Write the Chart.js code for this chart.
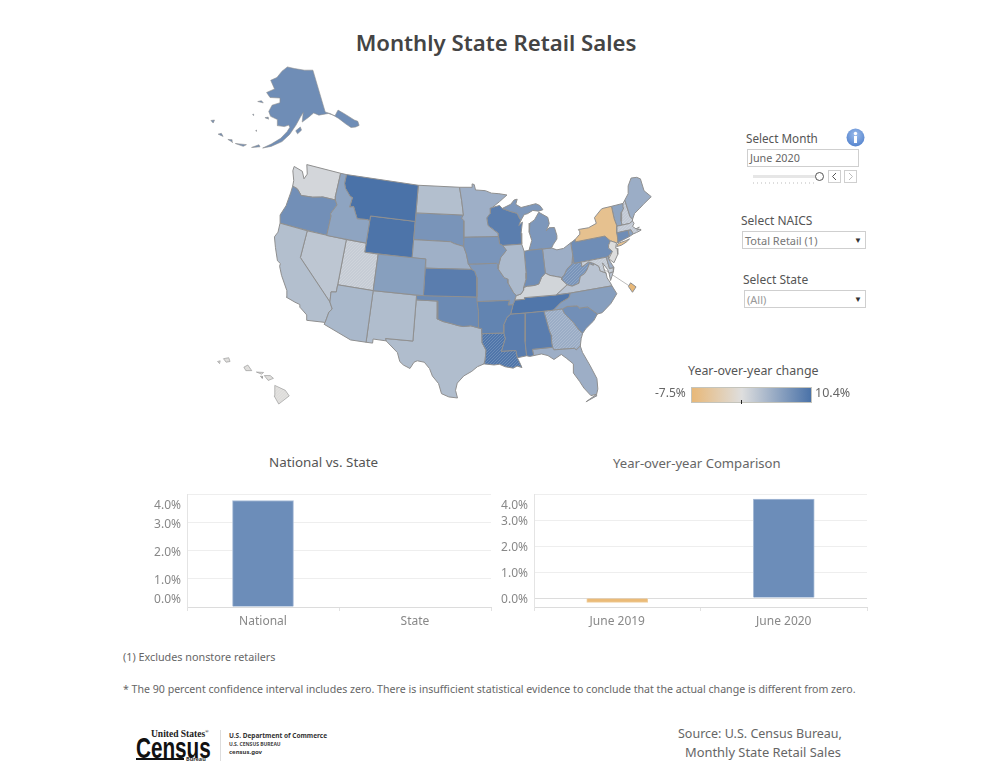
<!DOCTYPE html>
<html>
<head>
<meta charset="utf-8">
<title>Monthly State Retail Sales</title>
<script src="https://cdn.jsdelivr.net/npm/chart.js@4"></script>
<style>
  html, body { margin: 0; padding: 0; background: #fff; }
  body { position: relative; width: 1000px; height: 775px; overflow: hidden; font-family: "Noto Sans", sans-serif; color: #555; }
  .box { position: absolute; }
  .t { position: absolute; white-space: nowrap; line-height: 1; }
  .field { position: absolute; box-sizing: border-box; border: 1px solid #cfcfcf; background: #fff; }
  .caret { position: absolute; font-size: 8px; color: #333; line-height: 1; }
  .btn { position: absolute; box-sizing: border-box; width: 13px; height: 13px; border: 1px solid #cfcfcf; }
  .btn svg { display: block; }
</style>
</head>
<body>
<div class="t" style="left:0;width:992px;text-align:center;top:32px;font-size:22.2px;font-weight:600;color:#444">Monthly State Retail Sales</div>

<div class="box" style="left:200px;top:60px;width:460px;height:355px"><canvas id="chart-map"></canvas></div>

<div class="t" style="left:746px;top:133px;font-size:11.7px">Select Month</div>
<svg class="box" style="left:846px;top:128px" width="19" height="19"><defs><radialGradient id="ig" cx="0.5" cy="0.35" r="0.7"><stop offset="0" stop-color="#9dbdec"/><stop offset="1" stop-color="#4f7fcb"/></radialGradient></defs><circle cx="9.5" cy="9.5" r="9" fill="url(#ig)"/><rect x="8" y="8" width="3" height="7" fill="#fff"/><circle cx="9.5" cy="5.5" r="1.7" fill="#fff"/></svg>
<div class="field" style="left:747px;top:149px;width:112px;height:18px"></div>
<div class="t" style="left:750px;top:153px;font-size:10.8px;color:#666">June 2020</div>
<div class="box" style="left:753px;top:175px;width:63px;height:3px;background:#e6e6e6"></div>
<div class="box" style="left:753px;top:182px;width:64px;height:2px;background:repeating-linear-gradient(90deg,#ddd 0 1px,#fff 1px 4px)"></div>
<div class="box" style="left:815px;top:172px;width:9px;height:9px;box-sizing:border-box;border:1px solid #555;border-radius:50%;background:#fff"></div>
<div class="btn" style="left:828px;top:170px"><svg width="11" height="11"><path d="M7 2 L3.5 5.5 L7 9" fill="none" stroke="#555"/></svg></div>
<div class="btn" style="left:844px;top:170px"><svg width="11" height="11"><path d="M4 2 L7.5 5.5 L4 9" fill="none" stroke="#bbb"/></svg></div>

<div class="t" style="left:741px;top:215px;font-size:12px">Select NAICS</div>
<div class="field" style="left:742px;top:231px;width:124px;height:18px"></div>
<div class="t" style="left:745px;top:235px;font-size:11px;color:#777">Total Retail (1)</div>
<div class="caret" style="left:854px;top:236px">▼</div>

<div class="t" style="left:743px;top:274px;font-size:12px">Select State</div>
<div class="field" style="left:744px;top:290px;width:122px;height:18px"></div>
<div class="t" style="left:747px;top:294px;font-size:11px;color:#999">(All)</div>
<div class="caret" style="left:854px;top:295px">▼</div>

<div class="t" style="left:688px;top:365px;font-size:12.4px">Year-over-year change</div>
<div class="t" style="left:655px;top:387px;font-size:12px;color:#666">-7.5%</div>
<div id="legend-ramp" class="box" style="left:691px;top:387px;width:121px;height:16px;box-sizing:border-box;border:1px solid #c4c4bc"></div>
<div class="box" style="left:741px;top:400px;width:1px;height:4px;background:#222"></div>
<div class="t" style="left:815px;top:387px;font-size:12.5px;color:#666">10.4%</div>

<div class="t" style="left:269px;top:456px;font-size:13.4px">National vs. State</div>
<div class="t" style="left:613px;top:457px;font-size:13.1px;color:#666">Year-over-year Comparison</div>
<div class="box" style="left:130px;top:485px;width:370px;height:150px"><canvas id="chart-national"></canvas></div>
<div class="box" style="left:490px;top:485px;width:390px;height:150px"><canvas id="chart-yoy"></canvas></div>

<div class="t" style="left:123px;top:652px;font-size:10.8px;color:#666">(1) Excludes nonstore retailers</div>
<div class="t" style="left:123px;top:684px;font-size:10.6px;color:#666">* The 90 percent confidence interval includes zero. There is insufficient statistical evidence to conclude that the actual change is different from zero.</div>

<div class="t" style="left:151px;top:729px;font-family:'Liberation Serif',serif;font-weight:700;font-size:9.5px;color:#222">United States<sup style="font-size:5px">®</sup></div>
<div class="t" style="left:136px;top:733px;font-family:'Liberation Sans',sans-serif;font-weight:700;font-size:30px;color:#111;transform:scaleX(0.69);transform-origin:left top">Census</div>
<div class="box" style="left:136px;top:758px;width:48px;height:2px;background:#111"></div>
<div class="t" style="left:186px;top:757px;font-size:5.5px;font-weight:700;color:#333">Bureau</div>
<div class="box" style="left:220px;top:730px;width:1px;height:31px;background:#ddd"></div>
<div class="t" style="left:229px;top:733px;font-size:6.5px;font-weight:700;color:#333">U.S. Department of Commerce</div>
<div class="t" style="left:229px;top:742px;font-size:5px;font-weight:700;color:#444">U.S. CENSUS BUREAU</div>
<div class="t" style="left:229px;top:749px;font-size:6px;font-weight:700;color:#333">census.gov</div>

<div class="t" style="left:678px;top:728px;font-size:12.5px;color:#666">Source: U.S. Census Bureau,</div>
<div class="t" style="left:685px;top:746px;font-size:12.9px;color:#666">Monthly State Retail Sales</div>

<script>
// Monthly State Retail Sales, June 2020 (Chart.js only, the map is a scatter chart of filled outlines).

// --- Bar charts ---
const nationalLabels = ['National', 'State'];
const nationalValues = [3.77, null];
const yoyLabels = ['June 2019', 'June 2020'];
const yoyValues = [-0.17, 3.8];
const yTickValues = [0, 1, 2, 3, 4];

// --- Year-over-year change by state, % ---
const stateCodes = ['AK','AL','AR','AZ','CA','CO','CT','DC','DE','FL','GA','HI','IA','ID','IL','IN','KS','KY','LA','MA','MD','ME','MI','MN','MO','MS','MT','NC','ND','NE','NH','NJ','NM','NV','NY','OH','OK','OR','PA','RI','SC','SD','TN','TX','UT','VA','VT','WA','WI','WV','WY'];
const stateChange = [7.8,9.3,8.7,3.7,3.0,6.1,7.8,-7.5,4.6,4.6,4.7,-0.2,7.0,5.6,3.5,7.8,9.3,0.9,10.0,2.0,1.8,4.7,6.8,4.5,6.7,9.3,10.4,6.2,3.0,4.4,2.0,0.1,3.2,2.3,-5.8,4.6,8.1,7.6,7.8,5.9,7.6,7.1,10.0,3.2,1.7,2.6,5.6,0.8,9.2,7.0,10.2];
// States whose confidence interval includes zero are drawn hatched.
const hatchedStates = ['UT','GA','LA','WV','NH','MD','MA','HI'];

// --- Outlines as [lon, lat] ---
const AK = [[[-141,69.65],[-141,60.3],[-139,59.6],[-136.5,58.1],[-134.7,56.5],[-133.3,55.3],[-131.7,55],[-130.2,55],[-130,55.9],[-131,56.5],[-133.5,58.5],[-135.5,59.8],[-137.5,58.9],[-139.9,59.8],[-144,60],[-146,60.7],[-148.5,60],[-151.5,59.2],[-150.5,61.2],[-152,60.3],[-154.2,58.7],[-157,56.8],[-160,55.3],[-164,54.2],[-167,53.7],[-164,54.7],[-160.5,56],[-158,57.4],[-156.8,58.3],[-157.2,58.8],[-159,58.5],[-162,58.7],[-162,60],[-165,60.6],[-166,61.6],[-164.7,63],[-161,63.6],[-161,64.6],[-166,64.6],[-168,65.6],[-164,66.5],[-166.5,68.3],[-163,69],[-160,70.4],[-156.5,71.3],[-152,70.8],[-146,70.1]],
  [[-154.5,57.5],[-152.5,58.2],[-152.2,57.5],[-153.9,56.8]],
  [[-171.7,63.4],[-169,63.3],[-170,63.7]],
  [[-167.4,60.2],[-165.7,60],[-166,60.4]],
  [[-172.9,60.5],[-172.5,60.3],[-172.5,60.6]],
  [[-170.5,57.2],[-170,57.1],[-170.2,57.35]],
  [[-171,53.5],[-168,53.9],[-168.5,54.3]],
  [[-177,53.6],[-174,53.4],[-173,53.9]],
  [[-180,54],[-178,53.7],[-178.5,54.2]],
  [[-184,54.4],[-182,54.3],[-183,54.8]],
  [[-188.5,56.5],[-187.3,56.2],[-187.3,56.9]]];
const HI = [[[-160.25,21.95],[-160.05,22],[-160.1,21.8]],
  [[-159.8,22.15],[-159.4,22.22],[-159.3,21.95],[-159.6,21.9]],
  [[-158.25,21.55],[-157.95,21.7],[-157.65,21.3],[-158.1,21.3]],
  [[-157.3,21.2],[-156.75,21.17],[-156.9,21.05]],
  [[-157,20.9],[-156.85,20.9],[-156.85,20.75]],
  [[-156.7,20.95],[-156.25,20.95],[-156,20.75],[-156.4,20.6]],
  [[-155.9,20.25],[-155.1,19.9],[-154.8,19.5],[-155.6,18.92],[-155.95,19.5]]];
const WA = [[[-124.7,48.4],[-123.2,48.15],[-122.6,47.4],[-122.3,48],[-122.8,49],[-117.03,49],[-117.04,46.42],[-116.92,46],[-118.98,46],[-119.3,45.93],[-120.5,45.7],[-121.2,45.65],[-122.3,45.55],[-122.8,45.9],[-123.2,46.15],[-124,46.27],[-124.1,46.9],[-124.7,47.9]]];
const OR = [[[-124,46.27],[-123.2,46.15],[-122.8,45.9],[-122.3,45.55],[-121.2,45.65],[-120.5,45.7],[-119.3,45.93],[-118.98,46],[-116.92,46],[-116.5,45.5],[-117.2,44.4],[-117.03,44.2],[-117.03,42],[-124.2,42],[-124.55,42.85],[-124.1,44],[-124,45.5]]];
const CA = [[[-124.2,42],[-120,42],[-120,39],[-114.63,35],[-114.14,34.3],[-114.5,33.9],[-114.72,32.72],[-117.12,32.53],[-117.3,33.1],[-118.4,33.75],[-118.5,34.03],[-119.2,34.15],[-120.5,34.45],[-120.65,35.15],[-121.9,36.6],[-122.5,37.5],[-122.5,37.8],[-123,38],[-123.8,39.3],[-124.4,40.4],[-124.1,41]]];
const NV = [[[-120,42],[-114.04,42],[-114.04,36.2],[-114.75,36.1],[-114.63,35],[-120,39]]];
const ID = [[[-117.03,49],[-116.05,49],[-116.05,48],[-115.7,47.45],[-114.7,46.7],[-114.35,46.65],[-114.5,45.55],[-113.9,45.7],[-113.45,45.05],[-113,44.45],[-111.5,44.55],[-111.05,44.48],[-111.05,42],[-117.03,42],[-117.03,44.2],[-117.2,44.4],[-116.5,45.5],[-116.92,46],[-117.04,46.42]]];
const MT = [[[-116.05,49],[-104.05,49],[-104.05,45],[-111.05,45],[-111.05,44.48],[-111.5,44.55],[-113,44.45],[-113.45,45.05],[-113.9,45.7],[-114.5,45.55],[-114.35,46.65],[-114.7,46.7],[-115.7,47.45],[-116.05,48]]];
const WY = [[[-111.05,45],[-104.05,45],[-104.05,41],[-111.05,41]]];
const UT = [[[-114.04,42],[-111.05,42],[-111.05,41],[-109.05,41],[-109.05,37],[-114.04,37]]];
const CO = [[[-109.05,41],[-102.05,41],[-102.05,37],[-109.05,37]]];
const AZ = [[[-114.75,36.1],[-114.04,36.2],[-114.04,37],[-109.05,37],[-109.05,31.33],[-111.07,31.33],[-114.81,32.5],[-114.72,32.72],[-114.5,33.9],[-114.14,34.3],[-114.63,35]]];
const NM = [[[-109.05,37],[-103,37],[-103.04,32],[-106.62,32],[-106.5,31.75],[-108.2,31.78],[-108.2,31.33],[-109.05,31.33]]];
const ND = [[[-104.05,49],[-97.23,49],[-96.85,47.5],[-96.56,45.94],[-104.05,45.94]]];
const SD = [[[-104.05,45.94],[-96.56,45.94],[-96.85,45.6],[-96.45,45.3],[-96.45,43.5],[-96.5,42.5],[-97.9,42.8],[-98.5,43],[-104.05,43]]];
const NE = [[[-104.05,43],[-98.5,43],[-97.9,42.8],[-96.5,42.5],[-96.1,41.7],[-95.85,40.8],[-95.31,40],[-102.05,40],[-102.05,41],[-104.05,41]]];
const KS = [[[-102.05,40],[-95.31,40],[-94.9,39.8],[-94.6,39.1],[-94.62,37],[-102.05,37]]];
const OK = [[[-103,37],[-94.62,37],[-94.43,35.4],[-94.48,33.64],[-95.5,33.88],[-96.5,33.8],[-97.2,33.9],[-98.1,34.1],[-99.2,34.3],[-100,34.56],[-100,36.5],[-103,36.5]]];
const TX = [[[-103,36.5],[-100,36.5],[-100,34.56],[-99.2,34.3],[-98.1,34.1],[-97.2,33.9],[-96.5,33.8],[-95.5,33.88],[-94.48,33.64],[-94.04,33.55],[-94.04,33],[-94.04,32],[-93.55,31.2],[-93.7,30.1],[-93.85,29.7],[-94.7,29.4],[-95.4,28.9],[-96.4,28.4],[-97.2,27.6],[-97.4,26.8],[-97.15,25.96],[-98.2,26.06],[-99.1,26.4],[-99.5,27.5],[-100.3,28.3],[-100.7,29.1],[-101.4,29.77],[-102.3,29.88],[-102.7,29.7],[-103.15,28.98],[-104,29.3],[-104.5,29.65],[-104.9,30.6],[-106.5,31.75],[-106.62,32],[-103.04,32]]];
const MN = [[[-97.23,49],[-95.15,49],[-95.15,49.38],[-94.8,49.3],[-94.6,48.7],[-93,48.6],[-92,48.3],[-90.8,48.2],[-89.5,48],[-90.8,47.3],[-92,46.7],[-92.3,46.65],[-92.3,46.1],[-92.9,45.6],[-92.75,44.75],[-91.25,43.85],[-91.22,43.5],[-96.45,43.5],[-96.45,45.3],[-96.85,45.6],[-96.56,45.94],[-96.85,47.5]]];
const IA = [[[-96.45,43.5],[-91.22,43.5],[-91.1,42.7],[-90.64,42.5],[-90.15,41.95],[-91.05,41.2],[-91.4,40.4],[-91.72,40.6],[-95.77,40.58],[-95.85,40.8],[-96.1,41.7],[-96.5,42.5]]];
const MO = [[[-95.77,40.58],[-91.72,40.6],[-91.4,40.4],[-91.5,40],[-90.7,39],[-90.15,38.8],[-90.2,38.4],[-89.5,37.3],[-89.15,36.98],[-89.4,36.5],[-89.7,36],[-90.37,36],[-90.15,36.5],[-94.62,36.5],[-94.62,37],[-94.6,39.1],[-94.9,39.8],[-95.31,40]]];
const AR = [[[-94.62,36.5],[-90.15,36.5],[-90.37,36],[-89.7,36],[-90.1,35],[-90.6,34.7],[-91.1,33.9],[-91.17,33],[-94.04,33],[-94.04,33.55],[-94.48,33.64],[-94.43,35.4]]];
const LA = [[[-94.04,33],[-91.17,33],[-91,32.4],[-91.6,31],[-89.73,31],[-89.6,30.2],[-89.4,29.8],[-89.1,29.1],[-89.7,29.3],[-90.2,29.1],[-91.2,29.3],[-91.9,29.6],[-92.6,29.55],[-93.85,29.7],[-93.7,30.1],[-93.55,31.2],[-94.04,32]]];
const MS = [[[-91.17,33],[-91.1,33.9],[-90.6,34.7],[-90.1,35],[-88.2,35],[-88.1,34.9],[-88.45,31.9],[-88.4,30.35],[-89.6,30.2],[-89.73,31],[-91.6,31],[-91,32.4]]];
const AL = [[[-88.2,35],[-85.6,35],[-85.18,32.87],[-85,32.3],[-85.05,31.55],[-85,31],[-87.6,31],[-87.5,30.3],[-88,30.25],[-88.4,30.35],[-88.45,31.9],[-88.1,34.9]]];
const TN = [[[-90.1,35],[-89.7,36],[-89.4,36.5],[-88.05,36.5],[-88.07,36.68],[-83.68,36.6],[-81.68,36.59],[-82,36.1],[-83.1,35.75],[-84.3,35],[-85.6,35],[-88.2,35]]];
const KY = [[[-89.4,36.5],[-89.15,36.98],[-88.5,37.1],[-88.1,37.5],[-88.05,37.8],[-87.5,37.9],[-86.6,37.9],[-85.9,38],[-85.4,38.7],[-84.8,39.1],[-84.2,38.8],[-83.6,38.65],[-82.6,38.4],[-82.6,38.15],[-81.97,37.54],[-83.68,36.6],[-88.07,36.68],[-88.05,36.5]]];
const IL = [[[-91.5,40],[-91.4,40.4],[-91.05,41.2],[-90.15,41.95],[-90.64,42.5],[-87.8,42.5],[-87.53,41.7],[-87.53,39.35],[-87.6,38.7],[-88.05,37.8],[-88.1,37.5],[-88.5,37.1],[-89.15,36.98],[-89.5,37.3],[-90.2,38.4],[-90.15,38.8],[-90.7,39]]];
const IN = [[[-87.53,41.7],[-86.8,41.76],[-84.8,41.75],[-84.8,39.1],[-85.4,38.7],[-85.9,38],[-86.6,37.9],[-87.5,37.9],[-88.05,37.8],[-87.6,38.7],[-87.53,39.35]]];
const OH = [[[-84.8,41.75],[-83.45,41.73],[-82.7,41.45],[-81.7,41.5],[-80.52,41.98],[-80.52,40.64],[-80.85,39.7],[-81.7,39.2],[-82.2,38.6],[-82.6,38.4],[-83.6,38.65],[-84.2,38.8],[-84.8,39.1]]];
const MI = [[[-86.8,41.76],[-84.8,41.75],[-83.45,41.73],[-83.1,42.1],[-82.5,42.6],[-82.4,43],[-82.6,43.9],[-83.4,43.95],[-83.9,43.65],[-83.3,44.4],[-83.4,45.1],[-84.7,45.78],[-85.5,45],[-86.25,44.7],[-86.5,43.7],[-86.25,42.8]],
  [[-90.4,46.55],[-89,46.95],[-88.4,47.4],[-87.9,47.45],[-88.2,46.9],[-87.4,46.5],[-86,46.65],[-85,46.75],[-84.4,46.5],[-84,46],[-84.7,45.9],[-85.6,46.05],[-86.5,45.75],[-87,45.7],[-87.6,45.1],[-87.8,45.35],[-88.1,45.9],[-89.1,46.15]]];
const WI = [[[-92.3,46.65],[-92,46.7],[-90.8,46.9],[-90.4,46.55],[-89.1,46.15],[-88.1,45.9],[-87.8,45.35],[-87.6,45.1],[-88,44.55],[-87.4,44.9],[-87.75,43.7],[-87.8,42.5],[-90.64,42.5],[-91.1,42.7],[-91.22,43.5],[-91.25,43.85],[-92.75,44.75],[-92.9,45.6],[-92.3,46.1]]];
const PA = [[[-80.52,41.98],[-79.76,42.27],[-79.76,42],[-75.35,42],[-74.7,41.36],[-75.1,40.95],[-75.2,40.65],[-74.75,40.2],[-75.4,39.8],[-75.8,39.72],[-80.52,39.72],[-80.52,40.64]]];
const NY = [[[-79.76,42.27],[-79.05,42.7],[-78.9,43],[-79.05,43.27],[-77.5,43.25],[-76.2,43.55],[-76.3,44.2],[-75,44.95],[-74.7,45],[-73.35,45],[-73.4,43.6],[-73.25,42.75],[-73.5,42.05],[-73.5,41.3],[-73.65,41],[-73.9,41],[-74.7,41.36],[-75.35,42],[-79.76,42]],
  [[-74,40.6],[-73.7,40.9],[-72.6,40.98],[-71.9,41.07],[-72.5,40.82],[-73.3,40.62]]];
const NJ = [[[-74.7,41.36],[-73.9,41],[-74.2,40.45],[-74,40.4],[-74.1,39.75],[-74.9,38.95],[-75.5,39.5],[-74.75,40.2],[-75.2,40.65],[-75.1,40.95]]];
const DE = [[[-75.8,39.72],[-75.4,39.8],[-75.55,39.5],[-75.05,38.45],[-75.7,38.45]]];
const MD = [[[-79.48,39.72],[-75.8,39.72],[-75.7,38.45],[-75.05,38.45],[-75.25,38.03],[-75.9,37.95],[-76,38.4],[-76.5,39.2],[-76.45,38.3],[-76.3,38.05],[-77.05,38.4],[-77.1,38.9],[-77.7,39.3],[-78.4,39.6],[-79.48,39.2]]];
const DC = [[[-77.12,38.93],[-77.04,39],[-76.91,38.89],[-77.04,38.79]]];
const VA = [[[-83.68,36.6],[-81.97,37.54],[-81.3,37.3],[-80.3,37.5],[-79.95,38.2],[-79.3,38.42],[-78.87,38.77],[-78.35,39.4],[-77.85,39.13],[-77.7,39.3],[-77.1,38.9],[-77.05,38.4],[-76.3,38.05],[-76.3,37.5],[-76,36.93],[-75.87,36.55],[-81.68,36.59]],
  [[-75.9,37.95],[-75.25,38.03],[-75.9,37.15]]];
const WV = [[[-82.6,38.4],[-82.2,38.6],[-81.7,39.2],[-80.85,39.7],[-80.52,40.64],[-80.52,39.72],[-79.48,39.72],[-79.48,39.2],[-78.4,39.6],[-77.7,39.3],[-77.85,39.13],[-78.35,39.4],[-78.87,38.77],[-79.3,38.42],[-79.95,38.2],[-80.3,37.5],[-81.3,37.3],[-81.97,37.54],[-82.6,38.15]]];
const NC = [[[-84.3,35],[-83.1,35.75],[-82,36.1],[-81.68,36.59],[-75.87,36.55],[-75.45,35.6],[-76.5,34.7],[-77.9,33.9],[-78.55,33.86],[-79.67,34.8],[-80.8,34.82],[-81,35.1],[-82.4,35.2],[-83.1,35]]];
const SC = [[[-83.1,35],[-82.4,35.2],[-81,35.1],[-80.8,34.82],[-79.67,34.8],[-78.55,33.86],[-79.2,33.2],[-80.4,32.5],[-80.9,32.05],[-81.4,32.6],[-81.9,33.4],[-82.9,34.5]]];
const GA = [[[-85.6,35],[-84.3,35],[-83.1,35],[-82.9,34.5],[-81.9,33.4],[-81.4,32.6],[-80.9,32.05],[-81.2,31.5],[-81.45,30.72],[-82.05,30.36],[-82.2,30.57],[-84.86,30.7],[-85,31],[-85.05,31.55],[-85,32.3],[-85.18,32.87]]];
const FL = [[[-87.6,31],[-85,31],[-84.86,30.7],[-82.2,30.57],[-82.05,30.36],[-81.45,30.72],[-81.3,30],[-80.6,28.4],[-80.05,26.9],[-80.15,25.75],[-80.4,25.2],[-81.1,25.15],[-81.8,26.1],[-82.2,26.9],[-82.8,27.9],[-82.65,28.9],[-83.4,29.6],[-84,30.1],[-85,29.65],[-85.7,30.15],[-86.5,30.4],[-87.5,30.3]],
  [[-80.4,25.2],[-81.8,24.55],[-80.5,25]]];
const CT = [[[-73.5,42.05],[-71.8,42.02],[-71.85,41.32],[-73.65,41]]];
const RI = [[[-71.8,42.02],[-71.38,42.02],[-71.15,41.5],[-71.85,41.32]]];
const MA = [[[-73.5,42.05],[-73.25,42.75],[-71.3,42.7],[-70.8,42.87],[-70.65,42.6],[-71,42.3],[-70.6,41.95],[-70.05,42.05],[-70.55,41.8],[-70,41.8],[-70,41.65],[-70.65,41.55],[-71.15,41.5],[-71.38,42.02],[-71.8,42.02]]];
const VT = [[[-73.35,45],[-71.5,45],[-71.55,44.5],[-72.05,44.1],[-72.45,43.2],[-72.46,42.73],[-73.25,42.75],[-73.4,43.6]]];
const NH = [[[-71.5,45],[-71.1,45.3],[-70.98,43.4],[-70.7,43.07],[-70.8,42.87],[-71.3,42.7],[-72.46,42.73],[-72.45,43.2],[-72.05,44.1],[-71.55,44.5]]];
const ME = [[[-71.1,45.3],[-70.3,45.9],[-70,46.7],[-69.2,47.45],[-68.3,47.35],[-67.8,47.07],[-67.8,45.7],[-67,44.85],[-68.5,44.3],[-69.2,44],[-70.2,43.6],[-70.7,43.07],[-70.98,43.4]]];
const stateOutlines = {AK,AL,AR,AZ,CA,CO,CT,DC,DE,FL,GA,HI,IA,ID,IL,IN,KS,KY,LA,MA,MD,ME,MI,MN,MO,MS,MT,NC,ND,NE,NH,NJ,NM,NV,NY,OH,OK,OR,PA,RI,SC,SD,TN,TX,UT,VA,VT,WA,WI,WV,WY};

// --- Map projection (km from the map centre) ---
const EARTH_KM = 6371;
const PX_PER_KM = 0.082;
const rad = d => d * Math.PI / 180;

function albers(lon, lat, lon0, lat0, p1, p2) {
  const n = (Math.sin(rad(p1)) + Math.sin(rad(p2))) / 2;
  const c = Math.cos(rad(p1)) ** 2 + 2 * n * Math.sin(rad(p1));
  const rho = l => Math.sqrt(c - 2 * n * Math.sin(rad(l))) / n;
  const theta = n * rad(lon - lon0);
  return [EARTH_KM * rho(lat) * Math.sin(theta), EARTH_KM * (rho(lat0) - rho(lat) * Math.cos(theta))];
}

const lower48 = (lon, lat) => albers(lon, lat, -96, 37.5, 29.5, 45.5);
const alaskaInset = (lon, lat) => {
  const [x, y] = albers(lon, lat, -160, 63, 55, 65);
  return [x * 0.512 - 2256, y * 0.512 + 2280];
};
const hawaiiInset = (lon, lat) => {
  const x = (lon + 155.5) * Math.cos(rad(20.5)) * 111.2;
  const y = (lat - 19.6) * 111.2;
  return [x * 1.54 - 2280, y * 1.54 - 1244];
};
// DC is blown up and pulled out into the Atlantic with a leader line.
const dcAnchor = lower48(-77.03, 38.9);
const dcInset = (lon, lat) => {
  const [x, y] = lower48(lon, lat);
  return [dcAnchor[0] + (x - dcAnchor[0]) * 5 + 395, dcAnchor[1] + (y - dcAnchor[1]) * 5 - 255];
};
const projections = { AK: alaskaInset, HI: hawaiiInset, DC: dcInset };

// --- Colour ramp ---
const RAMP_MIN = -7.5, RAMP_MAX = 10.4;
const rampLow = [232, 184, 120], rampMid = [222, 222, 222], rampHigh = [74, 114, 168];

function changeColor(v) {
  const [a, b, t] = v < 0 ? [rampMid, rampLow, v / RAMP_MIN] : [rampMid, rampHigh, v / RAMP_MAX];
  const c = a.map((x, i) => Math.round(x + (b[i] - x) * t));
  return `rgb(${c[0]},${c[1]},${c[2]})`;
}

function hatch(color) {
  const tile = document.createElement('canvas');
  tile.width = tile.height = 3;
  const g = tile.getContext('2d');
  g.fillStyle = color;
  g.fillRect(0, 0, 3, 3);
  g.fillStyle = 'rgba(255,255,255,0.16)';
  for (let i = 0; i < 3; i++) g.fillRect(i, 2 - i, 1, 1);
  return g.createPattern(tile, 'repeat');
}

document.getElementById('legend-ramp').style.background =
  `linear-gradient(90deg, ${changeColor(RAMP_MIN)}, ${changeColor(0)} 41.9%, ${changeColor(RAMP_MAX)})`;

// --- Map chart ---
function stateDatasets() {
  const sets = [];
  stateCodes.forEach((code, i) => {
    const project = projections[code] || lower48;
    const fill = changeColor(stateChange[i]);
    for (const ring of stateOutlines[code]) {
      const data = ring.concat([ring[0]]).map(([lon, lat]) => {
        const [x, y] = project(lon, lat);
        return { x, y };
      });
      sets.push({
        label: code,
        data,
        showLine: true,
        tension: 0,
        pointRadius: 0,
        borderWidth: code === 'AK' || code === 'HI' ? 0.6 : 1,
        borderColor: '#8f8f8f',
        backgroundColor: hatchedStates.includes(code) ? hatch(fill) : fill,
        fill: 'shape',
      });
    }
  });
  const dcEnd = dcInset(-77.04, 38.9);
  sets.push({
    label: 'DC leader',
    data: [{ x: dcAnchor[0], y: dcAnchor[1] }, { x: dcEnd[0], y: dcEnd[1] }],
    showLine: true,
    pointRadius: 0,
    borderWidth: 1,
    borderColor: '#bdbdbd',
    fill: false,
  });
  return sets;
}

new Chart(document.getElementById('chart-map'), {
  type: 'scatter',
  data: { datasets: stateDatasets() },
  options: {
    responsive: true,
    maintainAspectRatio: false,
    animation: false,
    events: [],
    plugins: { legend: { display: false }, tooltip: { enabled: false } },
    scales: {
      x: { display: false, min: (200 - 467) / PX_PER_KM, max: (660 - 467) / PX_PER_KM },
      y: { display: false, min: (292.5 - 415) / PX_PER_KM, max: (292.5 - 60) / PX_PER_KM },
    },
  },
});

// --- Bar charts ---
const pct = v => v.toFixed(1) + '%';
const BAR_BLUE = '#6c8db9';
const BAR_ORANGE = '#ebbb78';
const FONT_FAMILY = '"Noto Sans", sans-serif';

function makeBars(canvasId, labels, values, opts) {
  // Tableau pulls the labels at the axis ends inside the plot. An empty extra
  // line moves a label by half its line height, so line height sets the shift.
  const pulledUp = v => v === 0 && opts.min === 0;
  return new Chart(document.getElementById(canvasId), {
    type: 'bar',
    data: {
      labels,
      datasets: [{
        data: values,
        barThickness: 61,
        backgroundColor: values.map(v => (v < 0 ? BAR_ORANGE : BAR_BLUE)),
        borderColor: values.map(v => (v < 0 ? '#f0cfa0' : '#a9bdd8')),
        borderWidth: 1,
      }],
    },
    options: {
      responsive: true,
      maintainAspectRatio: false,
      animation: false,
      events: [],
      layout: { padding: { top: 9, right: opts.right } },
      plugins: { legend: { display: false }, tooltip: { enabled: false } },
      scales: {
        x: {
          afterFit: s => { s.height = 28; s.paddingLeft = 0; s.paddingRight = 0; },
          grid: { offset: true, drawOnChartArea: false, tickLength: 4, color: '#e2e2e2' },
          border: { color: '#dcdcdc' },
          ticks: { color: '#888', padding: 3, font: { family: FONT_FAMILY, size: 12 } },
        },
        y: {
          min: opts.min,
          max: 4,
          afterFit: s => { s.width = opts.left; s.paddingTop = 0; s.paddingBottom = 0; },
          afterBuildTicks: s => { s.ticks = yTickValues.map(value => ({ value })); },
          grid: {
            drawTicks: false,
            color: c => (c.tick && c.tick.value === 0 && opts.min < 0 ? '#dcdcdc' : '#eeeeee'),
          },
          border: { color: '#e4e4e4' },
          ticks: {
            autoSkip: false,
            color: '#888',
            padding: 6,
            font: c => {
              const v = c.tick ? c.tick.value : 1;
              const lineHeight = v === 4 ? '24px' : pulledUp(v) ? '14px' : '4px';
              return { family: FONT_FAMILY, size: 12, lineHeight };
            },
            callback: v => (pulledUp(v) ? [pct(v), ''] : ['', pct(v)]),
          },
        },
      },
    },
  });
}

makeBars('chart-national', nationalLabels, nationalValues, { min: 0, left: 57, right: 9 });
makeBars('chart-yoy', yoyLabels, yoyValues, { min: -0.346, left: 44, right: 13 });
</script>
</body>
</html>
